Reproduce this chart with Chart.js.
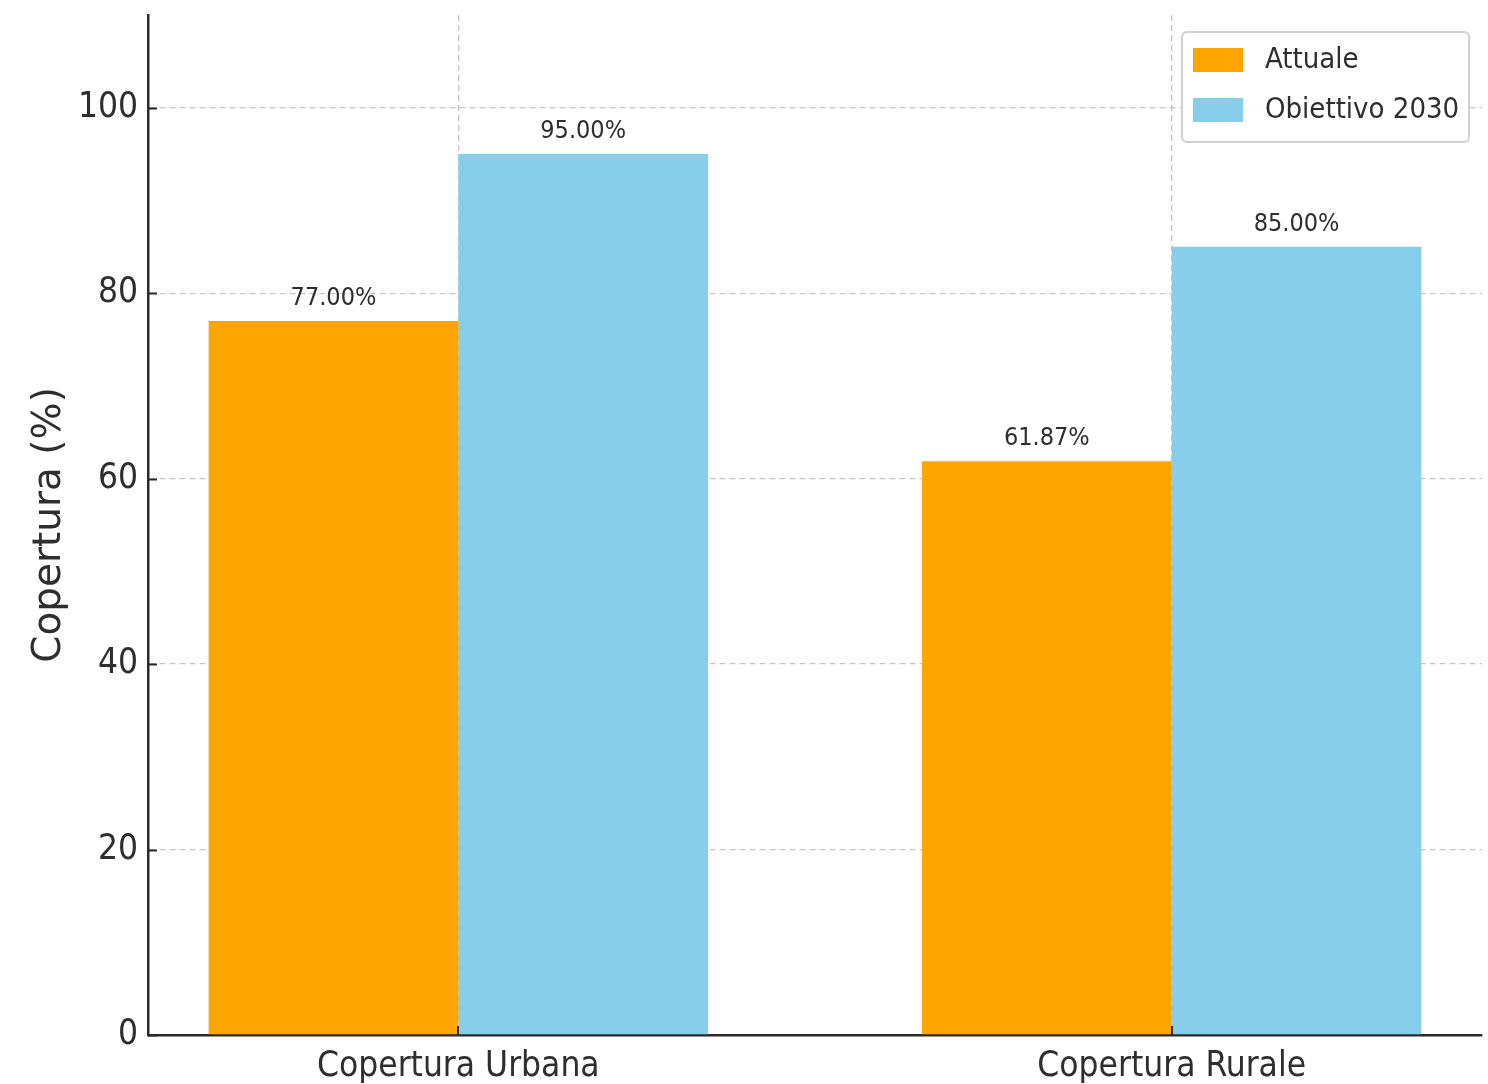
<!DOCTYPE html>
<html>
<head>
<meta charset="utf-8">
<script src="https://cdn.jsdelivr.net/npm/chart.js@4/dist/chart.umd.min.js"></script>
<style>
  html, body { margin: 0; padding: 0; background: #ffffff; }
  #wrap { width: 1488px; height: 1084px; }
</style>
</head>
<body>
<div id="wrap"><canvas id="c" width="1488" height="1084"></canvas></div>
<script>
const categories = ['Copertura Urbana', 'Copertura Rurale'];
const seriesNames = ['Attuale', 'Obiettivo 2030'];
const attuale = [77.00, 61.87];
const obiettivo = [95.00, 85.00];
const yTicks = [0, 20, 40, 60, 80, 100];
const yTitle = 'Copertura (%)';

const COND = "'DejaVu Sans Condensed', 'DejaVu Sans', sans-serif";
const SANS = "'DejaVu Sans', sans-serif";
const TXT = '#2e2e2e';
const AXIS = '#2a2a2a';
const GRID = 'rgba(160,160,160,0.6)';

const toPoints = arr => arr.map((v, i) => ({ x: i, y: v }));

const valueLabels = {
  id: 'valueLabels',
  afterDatasetsDraw(chart) {
    const ctx = chart.ctx;
    ctx.save();
    ctx.font = '25px ' + COND;
    ctx.fillStyle = TXT;
    ctx.textAlign = 'center';
    ctx.textBaseline = 'bottom';
    chart.data.datasets.forEach((ds, di) => {
      chart.getDatasetMeta(di).data.forEach((bar, i) => {
        ctx.fillText(ds.data[i].y.toFixed(2) + '%', bar.x, bar.y - 10);
      });
    });
    ctx.restore();
  }
};

const innerTicks = {
  id: 'innerTicks',
  afterDraw(chart) {
    const ctx = chart.ctx;
    const ys = chart.scales.y, xs = chart.scales.x;
    const a = chart.chartArea;
    ctx.save();
    ctx.strokeStyle = AXIS;
    ctx.lineWidth = 2;
    ys.ticks.forEach(t => {
      const py = Math.round(ys.getPixelForValue(t.value)) + 0.5;
      ctx.beginPath(); ctx.moveTo(a.left, py); ctx.lineTo(a.left + 9, py); ctx.stroke();
    });
    xs.ticks.forEach(t => {
      const px = Math.round(xs.getPixelForValue(t.value));
      ctx.beginPath(); ctx.moveTo(px, a.bottom); ctx.lineTo(px, a.bottom - 9); ctx.stroke();
    });
    ctx.restore();
  }
};

const boxLegend = {
  id: 'boxLegend',
  afterDraw(chart) {
    const ctx = chart.ctx;
    const a = chart.chartArea;
    const w = 287, h = 110;
    const x0 = a.right - 13 - w, y0 = a.top + 17;
    ctx.save();
    ctx.beginPath();
    if (ctx.roundRect) ctx.roundRect(x0, y0, w, h, 5); else ctx.rect(x0, y0, w, h);
    ctx.fillStyle = 'rgba(255,255,255,0.9)';
    ctx.fill();
    ctx.strokeStyle = '#d0d0d0';
    ctx.lineWidth = 2;
    ctx.stroke();
    ctx.font = '29px ' + COND;
    ctx.textBaseline = 'middle';
    ctx.textAlign = 'left';
    chart.data.datasets.forEach((ds, i) => {
      const cy = y0 + 28 + i * 50;
      ctx.fillStyle = ds.backgroundColor;
      ctx.fillRect(x0 + 11, cy - 12, 50, 24);
      ctx.fillStyle = TXT;
      ctx.fillText(ds.label, x0 + 83, cy);
    });
    ctx.restore();
  }
};

new Chart(document.getElementById('c'), {
  type: 'bar',
  data: {
    datasets: [
      { label: seriesNames[0], data: toPoints(attuale), backgroundColor: '#FFA500', borderWidth: 0 },
      { label: seriesNames[1], data: toPoints(obiettivo), backgroundColor: '#87CEEB', borderWidth: 0 }
    ]
  },
  options: {
    responsive: false,
    animation: false,
    devicePixelRatio: 1,
    categoryPercentage: 0.7,
    barPercentage: 1.0,
    layout: { padding: { left: 0, top: 15, right: 6, bottom: 0 } },
    plugins: { legend: { display: false }, tooltip: { enabled: false }, title: { display: false } },
    scales: {
      x: {
        type: 'linear',
        min: -0.435,
        max: 1.435,
        offset: false,
        z: 1,
        afterBuildTicks: s => { s.ticks = categories.map((c, i) => ({ value: i })); },
        afterFit: s => { s.height = 49; s.paddingLeft = 0; s.paddingRight = 0; },
        grid: { color: GRID, lineWidth: 1.3, drawTicks: false, offset: false },
        border: { display: true, color: AXIS, width: 2.5, dash: [6, 4] },
        ticks: {
          padding: 11,
          color: TXT,
          font: { family: COND, size: 35 },
          callback: v => categories[v] !== undefined ? categories[v] : ''
        }
      },
      y: {
        min: 0,
        max: 110,
        z: 1,
        afterBuildTicks: s => { s.ticks = yTicks.map(v => ({ value: v })); },
        afterFit: s => { s.width = 148; s.paddingTop = 0; s.paddingBottom = 0; },
        grid: { color: GRID, lineWidth: 1.3, drawTicks: false },
        border: { display: true, color: AXIS, width: 2.5, dash: [6, 4] },
        ticks: {
          padding: 10,
          color: TXT,
          font: { family: COND, size: 35 }
        },
        title: {
          display: true,
          text: yTitle,
          color: TXT,
          font: { family: SANS, size: 39 },
          padding: { top: 26, bottom: 0 }
        }
      }
    }
  },
  plugins: [valueLabels, innerTicks, boxLegend]
});
</script>
</body>
</html>
